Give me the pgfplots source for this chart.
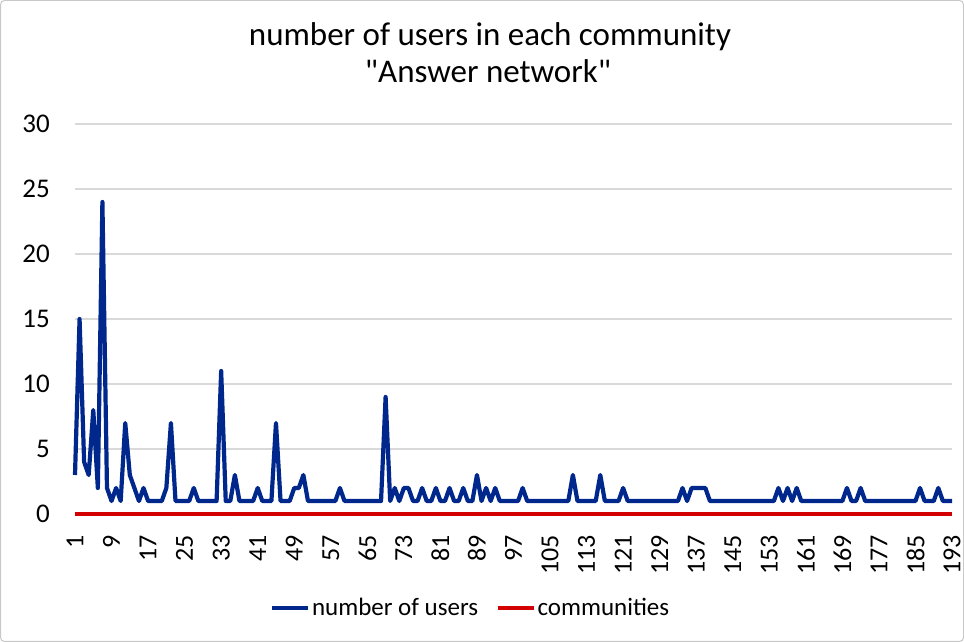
\documentclass[border=0pt]{standalone}
\usepackage{fontspec}
\setmainfont{Carlito}[Ligatures=TeXOff]
\usepackage{pgfplots}
\pgfplotsset{compat=1.18}
\usepackage{pgfplotstable}
\definecolor{ublue}{RGB}{0,40,140}
\definecolor{cred}{RGB}{210,0,0}
\definecolor{gridgray}{RGB}{217,217,217}
\definecolor{framegray}{RGB}{200,200,200}

\pgfplotstableread{
c u z
1 3 0
2 15 0
3 4 0
4 3 0
5 8 0
6 2 0
7 24 0
8 2 0
9 1 0
10 2 0
11 1 0
12 7 0
13 3 0
14 2 0
15 1 0
16 2 0
17 1 0
18 1 0
19 1 0
20 1 0
21 2 0
22 7 0
23 1 0
24 1 0
25 1 0
26 1 0
27 2 0
28 1 0
29 1 0
30 1 0
31 1 0
32 1 0
33 11 0
34 1 0
35 1 0
36 3 0
37 1 0
38 1 0
39 1 0
40 1 0
41 2 0
42 1 0
43 1 0
44 1 0
45 7 0
46 1 0
47 1 0
48 1 0
49 2 0
50 2 0
51 3 0
52 1 0
53 1 0
54 1 0
55 1 0
56 1 0
57 1 0
58 1 0
59 2 0
60 1 0
61 1 0
62 1 0
63 1 0
64 1 0
65 1 0
66 1 0
67 1 0
68 1 0
69 9 0
70 1 0
71 2 0
72 1 0
73 2 0
74 2 0
75 1 0
76 1 0
77 2 0
78 1 0
79 1 0
80 2 0
81 1 0
82 1 0
83 2 0
84 1 0
85 1 0
86 2 0
87 1 0
88 1 0
89 3 0
90 1 0
91 2 0
92 1 0
93 2 0
94 1 0
95 1 0
96 1 0
97 1 0
98 1 0
99 2 0
100 1 0
101 1 0
102 1 0
103 1 0
104 1 0
105 1 0
106 1 0
107 1 0
108 1 0
109 1 0
110 3 0
111 1 0
112 1 0
113 1 0
114 1 0
115 1 0
116 3 0
117 1 0
118 1 0
119 1 0
120 1 0
121 2 0
122 1 0
123 1 0
124 1 0
125 1 0
126 1 0
127 1 0
128 1 0
129 1 0
130 1 0
131 1 0
132 1 0
133 1 0
134 2 0
135 1 0
136 2 0
137 2 0
138 2 0
139 2 0
140 1 0
141 1 0
142 1 0
143 1 0
144 1 0
145 1 0
146 1 0
147 1 0
148 1 0
149 1 0
150 1 0
151 1 0
152 1 0
153 1 0
154 1 0
155 2 0
156 1 0
157 2 0
158 1 0
159 2 0
160 1 0
161 1 0
162 1 0
163 1 0
164 1 0
165 1 0
166 1 0
167 1 0
168 1 0
169 1 0
170 2 0
171 1 0
172 1 0
173 2 0
174 1 0
175 1 0
176 1 0
177 1 0
178 1 0
179 1 0
180 1 0
181 1 0
182 1 0
183 1 0
184 1 0
185 1 0
186 2 0
187 1 0
188 1 0
189 1 0
190 2 0
191 1 0
192 1 0
193 1 0
}\datatable

\begin{document}
\begin{tikzpicture}[x=1pt,y=1pt]
\draw[framegray, line width=1pt, rounded corners=4pt] (0.5,0.5) rectangle (963.5,641.5);
\node[anchor=base, font=\fontsize{33}{37}\selectfont] at (490,596.3) {number of users in each community};
\node[anchor=base, font=\fontsize{33}{37}\selectfont] at (488,559.3) {"Answer network"};
\begin{axis}[
  at={(75pt,128pt)}, anchor=south west,
  scale only axis, width=877pt, height=390pt,
  xmin=1, xmax=193, ymin=0, ymax=30,
  xtick={1,9,...,193}, ytick={0,5,...,30},
  ymajorgrids, grid style={gridgray, line width=1.3pt},
  axis line style={draw=none},
  major tick length=0pt,
  /pgf/number format/assume math mode=true,
  xticklabel={\fontsize{26}{30}\selectfont\pgfmathprintnumber{\tick}},
  yticklabel={\fontsize{27}{30}\selectfont\pgfmathprintnumber{\tick}},
  tick label style={inner sep=0pt},
  xticklabel style={rotate=90, anchor=east},
  yticklabel style={anchor=east},
  xticklabel shift=21pt,
  yticklabel shift=25pt,
  clip=false,
  legend style={at={(axis description cs:0.451,-0.241)}, anchor=center,
    draw=none, fill=none, legend columns=2,
    font=\fontsize{25}{30}\selectfont,
    /tikz/every even column/.append style={column sep=16pt}},
  legend image code/.code={\draw[#1] (0pt,0pt) -- (36pt,0pt);},
]
\addplot[ublue, line width=4.2pt, line join=round] table[x=c, y=u] {\datatable};
\addlegendentry{number of users}
\addplot[cred, line width=3.5pt] table[x=c, y=z] {\datatable};
\addlegendentry{communities}
\end{axis}
\end{tikzpicture}
\end{document}
